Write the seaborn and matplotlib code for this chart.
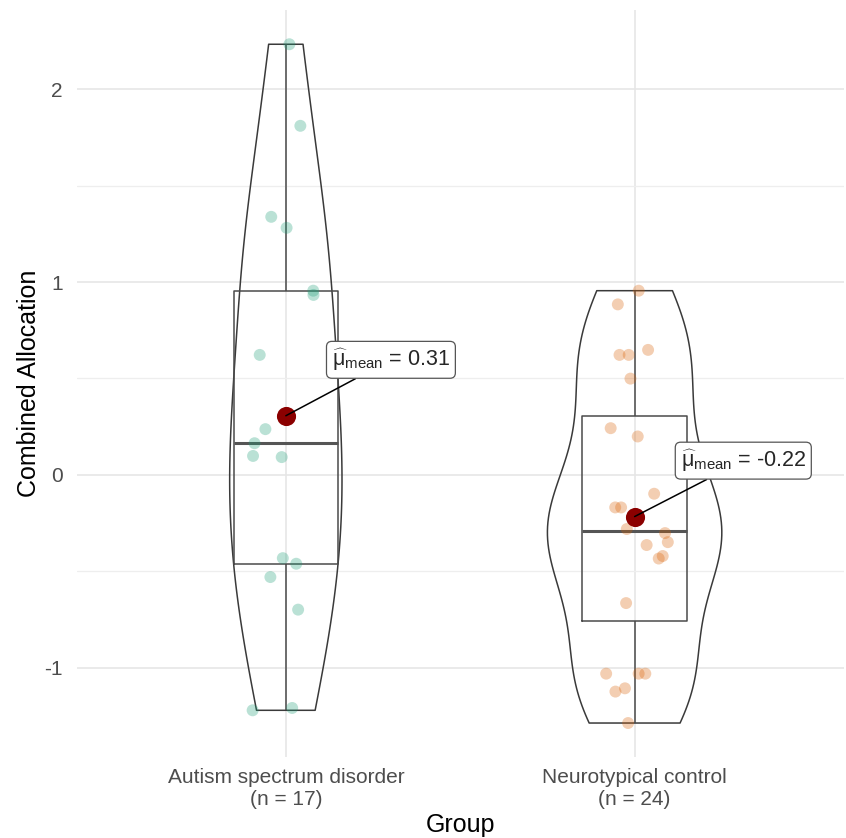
import numpy as np
import pandas as pd
import matplotlib.pyplot as plt
import seaborn as sns
from matplotlib.ticker import MultipleLocator

# Values
groups = ["Autism spectrum disorder", "Neurotypical control"]
asd_values = [2.233, 1.81, 1.338, 1.281, 0.955, 0.933, 0.622, 0.237, 0.164,
              0.092, 0.098, -0.432, -0.461, -0.530, -0.699, -1.209, -1.221]
nc_values = [0.955, 0.884, 0.622, 0.622, 0.648, 0.499, 0.242, 0.199, -0.098,
             -0.169, -0.169, -0.281, -0.302, -0.349, -0.364, -0.421, -0.434,
             -0.665, -1.031, -1.031, -1.031, -1.107, -1.124, -1.287]
y_ticks = [-1, 0, 1, 2]
point_colors = ["#1B9E77", "#D95F02"]

df = pd.DataFrame({
    "Group": [groups[0]] * len(asd_values) + [groups[1]] * len(nc_values),
    "Combined Allocation": asd_values + nc_values,
})
tick_labels = [f"{g}\n(n = {len(v)})" for g, v in zip(groups, [asd_values, nc_values])]


def nrd0(kde):
    # R's default bandwidth, expressed as a factor of the sample sd
    x = kde.dataset.ravel()
    sd = x.std(ddof=1)
    iqr = np.subtract(*np.percentile(x, [75, 25]))
    return 0.9 * min(sd, iqr / 1.34) * len(x) ** -0.2 / sd


sns.set_style("white")
plt.rcParams["font.family"] = ["Liberation Sans", "DejaVu Sans"]
plt.rcParams["axes.unicode_minus"] = False
plt.rcParams["mathtext.fontset"] = "custom"
plt.rcParams["mathtext.rm"] = "Liberation Sans"
plt.rcParams["mathtext.it"] = "Liberation Sans:italic"

np.random.seed(3)

fig = plt.figure(figsize=(8.46, 8.38), dpi=100)
ax = fig.add_axes([0.0905, 0.0967, 0.907, 0.891])

sns.violinplot(data=df, x="Group", y="Combined Allocation", order=groups,
               fill=False, color="#3a3a3a", linewidth=1.1, width=0.5,
               cut=0, inner=None, density_norm="area", bw_method=nrd0, ax=ax)
sns.boxplot(data=df, x="Group", y="Combined Allocation", order=groups,
            fill=False, color="#4a4a4a", linewidth=1.1, width=0.3,
            whis=np.inf, showcaps=False, showfliers=False,
            medianprops=dict(linewidth=2.2, color="#555555"), ax=ax)
sns.stripplot(data=df, x="Group", y="Combined Allocation", order=groups,
              hue="Group", palette=point_colors, alpha=0.3, size=8.6,
              linewidth=0, jitter=0.1, legend=False, ax=ax)

for i, vals in enumerate([asd_values, nc_values]):
    m = np.mean(vals)
    ax.scatter(i, m, s=190, color="#8B0000", zorder=5, linewidth=0)
    ax.annotate(r"$\widehat{\mathrm{\mu}}_{\mathrm{mean}}$" + f" = {m:.2f}",
                xy=(i, m), xytext=(i + 0.132, m + 0.29), ha="left", va="center",
                fontsize=15.5, zorder=6,
                bbox=dict(boxstyle="round,pad=0.25,rounding_size=0.25",
                          fc="white", ec="#555555", lw=0.9),
                arrowprops=dict(arrowstyle="-", color="black", lw=1.1,
                                shrinkA=0, shrinkB=0))

ax.set_xlim(-0.6, 1.6)
ax.set_ylim(-1.463, 2.409)
ax.set_yticks(y_ticks)
ax.set_yticklabels([str(t) for t in y_ticks])
ax.yaxis.set_minor_locator(MultipleLocator(0.5))
ax.set_xticks([0, 1])
ax.set_xticklabels(tick_labels)
ax.grid(True, which="major", color="#e6e6e6", linewidth=1.2)
ax.grid(True, which="minor", axis="y", color="#eeeeee", linewidth=0.9)
ax.set_axisbelow(True)
ax.tick_params(axis="both", which="both", length=0, labelsize=15, labelcolor="#4d4d4d")
ax.tick_params(axis="y", pad=10)
ax.tick_params(axis="x", pad=8)
ax.set_xlabel("Group", fontsize=18, color="black", labelpad=3)
ax.set_ylabel("Combined Allocation", fontsize=18, color="black", labelpad=2)
sns.despine(ax=ax, left=True, bottom=True)

fig.savefig("out.png", dpi=100)
